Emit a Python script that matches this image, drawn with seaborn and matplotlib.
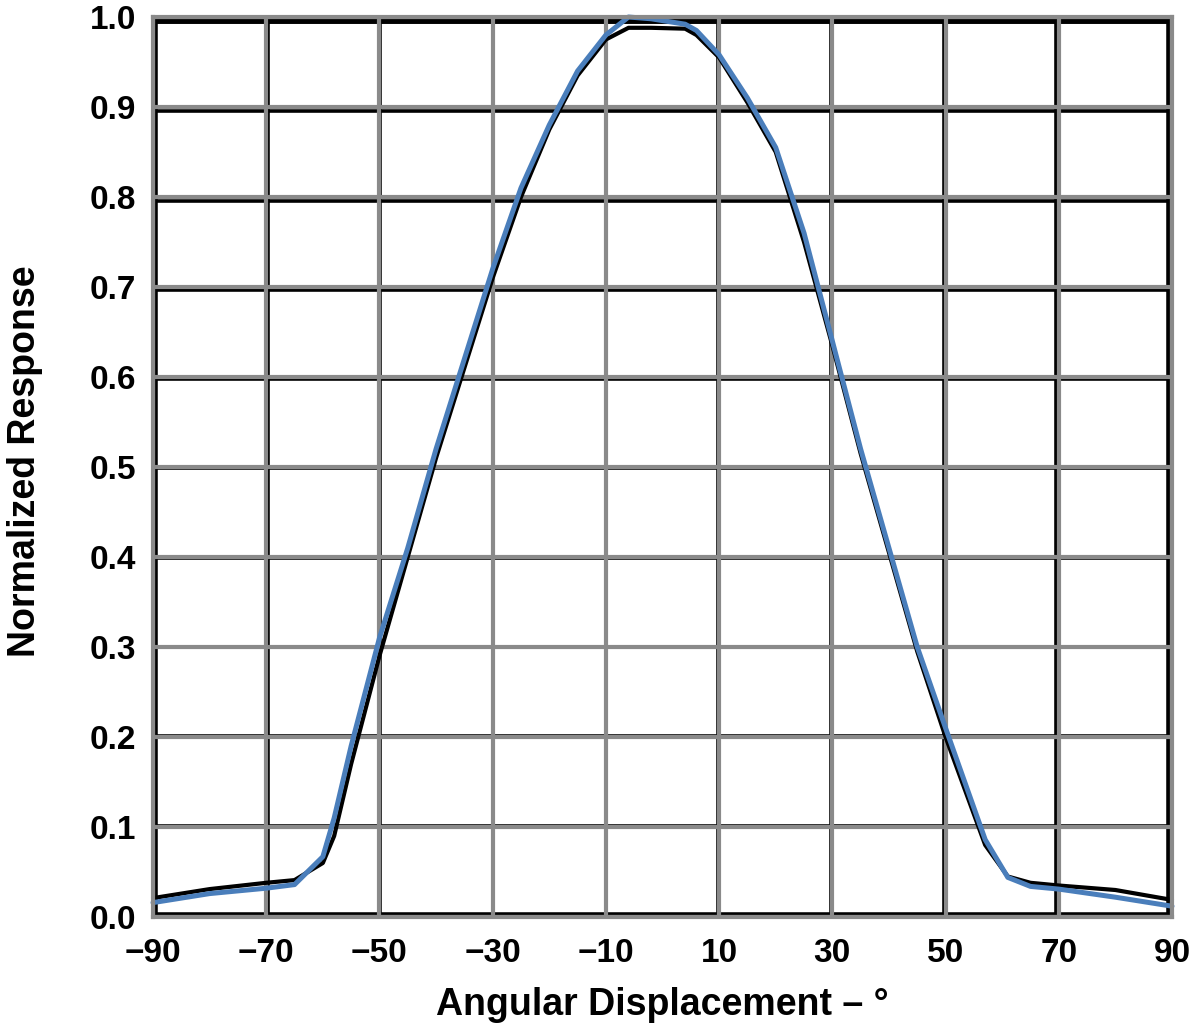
import numpy as np
import pandas as pd
import seaborn as sns
import matplotlib.pyplot as plt

# curve readings (angle in degrees, normalized response)
angle = [-90, -80, -70, -65, -60, -58, -55, -50, -45, -40, -35, -30, -25, -20, -15, -10,
         -6, -2, 4, 6, 10, 15, 20, 25, 30, 35, 40, 45, 50, 57, 61, 65, 70, 80, 90]
response_blue = [0.016, 0.026, 0.032, 0.036, 0.067, 0.11, 0.19, 0.31, 0.41, 0.52, 0.62, 0.72,
                 0.81, 0.88, 0.94, 0.98, 1.0, 0.998, 0.992, 0.985, 0.958, 0.91, 0.855, 0.76,
                 0.64, 0.52, 0.41, 0.30, 0.21, 0.086, 0.044, 0.034, 0.031, 0.022, 0.012]
response_black = [0.021, 0.031, 0.038, 0.041, 0.06, 0.09, 0.17, 0.29, 0.40, 0.51, 0.61, 0.71,
                  0.80, 0.875, 0.935, 0.975, 0.988, 0.988, 0.987, 0.98, 0.955, 0.905, 0.85, 0.75,
                  0.635, 0.515, 0.405, 0.295, 0.20, 0.08, 0.045, 0.038, 0.035, 0.03, 0.019]

x_ticks = list(range(-90, 91, 20))
x_labels = ["\u221290", "\u221270", "\u221250", "\u221230", "\u221210", "10", "30", "50", "70", "90"]
y_ticks = [0.0, 0.1, 0.2, 0.3, 0.4, 0.5, 0.6, 0.7, 0.8, 0.9, 1.0]
y_labels = ["0.0", "0.1", "0.2", "0.3", "0.4", "0.5", "0.6", "0.7", "0.8", "0.9", "1.0"]

df = pd.DataFrame({"angle": angle, "blue": response_blue, "black": response_black})

sns.set_style("white")
plt.rcParams['font.family'] = ['Liberation Sans', 'DejaVu Sans']
plt.rcParams['font.weight'] = 'bold'

W, H = 1197, 1034
fig = plt.figure(figsize=(W / 100, H / 100), dpi=100)

def box(l, t, r, b):
    return [l / W, 1 - b / H, (r - l) / W, (b - t) / H]

# back layer: black grid, slightly offset
ax_bk = fig.add_axes(box(155, 21, 1169, 915))
ax_bk.set_xlim(-88.5, 88.5)
ax_bk.set_ylim(0.005, 1.001)
ax_bk.set_xticks(x_ticks)
ax_bk.set_yticks(y_ticks)
ax_bk.tick_params(length=0, labelbottom=False, labelleft=False)
ax_bk.grid(True, color="black", linewidth=2.6)
for s in ax_bk.spines.values():
    s.set_color("black")
    s.set_linewidth(4)

# front layer: grey grid, curves, labels
ax = fig.add_axes(box(153, 17, 1172, 917))
ax.patch.set_alpha(0)
sns.lineplot(data=df, x="angle", y="black", ax=ax, color="black", linewidth=3.0, clip_on=False)
sns.lineplot(data=df, x="angle", y="blue", ax=ax, color="#4a7ebb", linewidth=3.6, clip_on=False)
ax.set_xlim(-90, 90)
ax.set_ylim(0, 1.0)
ax.set_xticks(x_ticks)
ax.set_xticklabels(x_labels)
ax.set_yticks(y_ticks)
ax.set_yticklabels(y_labels)
ax.grid(True, color="#8a8a8a", linewidth=3)
ax.tick_params(axis="both", length=8, width=3, color="#8a8a8a", labelsize=24, labelcolor="black")
ax.tick_params(axis="x", pad=7)
ax.tick_params(axis="y", length=4, pad=8)
for s in ax.spines.values():
    s.set_color("#8a8a8a")
    s.set_linewidth(3)

ax.set_xlabel("Angular Displacement \u2013 \u00b0", fontsize=27, fontweight="bold", color="black")
ax.set_ylabel("Normalized Response", fontsize=27, fontweight="bold", color="black")
ax.xaxis.set_label_coords(0.5, -0.078)
ax.yaxis.set_label_coords(-0.108, 0.506)

fig.savefig("out.png", dpi=100)
